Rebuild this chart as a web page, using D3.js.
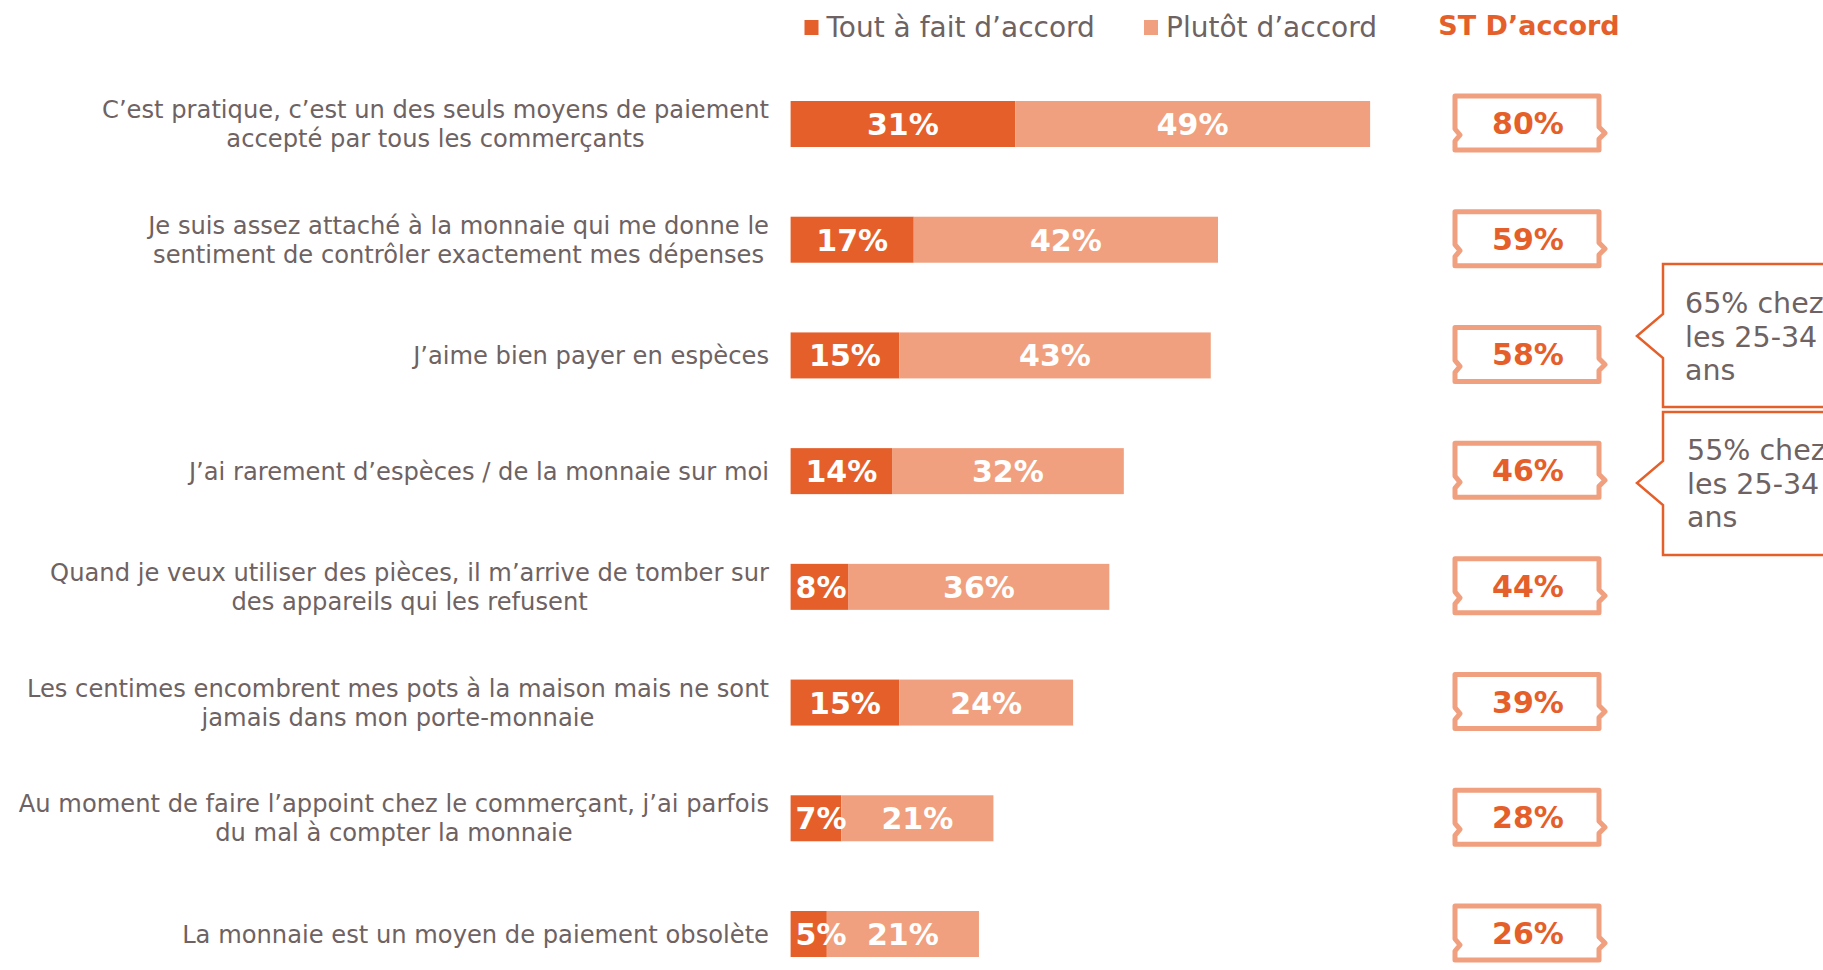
<!DOCTYPE html>
<html>
<head>
<meta charset="utf-8">
<script src="https://cdnjs.cloudflare.com/ajax/libs/d3/7.8.5/d3.min.js"></script>
<style>
  body { margin: 0; background: #fff; }
  svg { display: block; }
  text { font-family: "DejaVu Sans", Verdana, sans-serif; }
</style>
</head>
<body>
<svg id="chart" width="1823" height="970"></svg>
<script>

// data
const categories = [
  "C\u2019est pratique, c\u2019est un des seuls moyens de paiement\naccept\u00e9 par tous les commer\u00e7ants",
  "Je suis assez attach\u00e9 \u00e0 la monnaie qui me donne le\nsentiment de contr\u00f4ler exactement mes d\u00e9penses",
  "J\u2019aime bien payer en esp\u00e8ces",
  "J\u2019ai rarement d\u2019esp\u00e8ces / de la monnaie sur moi",
  "Quand je veux utiliser des pi\u00e8ces, il m\u2019arrive de tomber sur\ndes appareils qui les refusent",
  "Les centimes encombrent mes pots \u00e0 la maison mais ne sont\njamais dans mon porte-monnaie",
  "Au moment de faire l\u2019appoint chez le commer\u00e7ant, j\u2019ai parfois\ndu mal \u00e0 compter la monnaie",
  "La monnaie est un moyen de paiement obsol\u00e8te"
];
const toutAFait = [31, 17, 15, 14, 8, 15, 7, 5];
const plutot = [49, 42, 43, 32, 36, 24, 21, 21];
const stAccord = [80, 59, 58, 46, 44, 39, 28, 26];
const seriesNames = ["Tout \u00e0 fait d\u2019accord", "Plut\u00f4t d\u2019accord"];
const totalTitle = "ST D\u2019accord";
const calloutTexts = [
  ["65% chez", "les 25-34", "ans"],
  ["55% chez", "les 25-34", "ans"]
];

// layout
const darkOrange = "#E55F2A";
const lightOrange = "#F0A07E";
const greyText = "#6E6262";
const labelRight = 769;
const barH = 46;

const svg = d3.select("#chart");

const xScale = d3.scaleLinear().domain([0, 100]).range([790.6, 1515]);
const yScale = d3.scalePoint().domain(d3.range(categories.length)).range([124, 934]);

const rows = categories.map((c, i) => ({
  i: i, label: c, a: toutAFait[i], b: plutot[i], total: stAccord[i]
}));

// category labels (lines centred on each other, widest line right-aligned)
rows.forEach(function (d) {
  const lines = d.label.split("\n");
  const t = svg.append("text")
    .attr("font-size", 24.2)
    .attr("fill", greyText)
    .attr("text-anchor", "middle");
  const lineH = 29;
  const y0 = yScale(d.i) - (lines.length - 1) * lineH / 2 + 8.5;
  lines.forEach(function (l, k) {
    t.append("tspan").attr("x", 0).attr("y", y0 + k * lineH).text(l);
  });
  const maxW = d3.max(t.selectAll("tspan").nodes(), n => n.getComputedTextLength());
  t.attr("transform", "translate(" + (labelRight - maxW / 2) + ",0)");
});

// bars
svg.selectAll(".barA")
  .data(rows)
  .enter()
  .append("rect")
  .attr("class", "barA")
  .attr("x", xScale(0))
  .attr("y", d => yScale(d.i) - barH / 2)
  .attr("width", d => xScale(d.a) - xScale(0))
  .attr("height", barH)
  .style("fill", darkOrange);

svg.selectAll(".barB")
  .data(rows)
  .enter()
  .append("rect")
  .attr("class", "barB")
  .attr("x", d => xScale(d.a))
  .attr("y", d => yScale(d.i) - barH / 2)
  .attr("width", d => xScale(d.a + d.b) - xScale(d.a))
  .attr("height", barH)
  .style("fill", lightOrange);

// bar value labels
rows.forEach(function (d) {
  const ta = svg.append("text")
    .attr("font-size", 30)
    .attr("font-weight", "bold")
    .attr("fill", "#fff")
    .attr("y", yScale(d.i) + 11)
    .text(d.a + "%");
  const wa = ta.node().getComputedTextLength();
  const ca = (xScale(0) + xScale(d.a)) / 2;
  ta.attr("x", Math.max(ca - wa / 2, xScale(0) + 5));

  svg.append("text")
    .attr("font-size", 30)
    .attr("font-weight", "bold")
    .attr("fill", "#fff")
    .attr("text-anchor", "middle")
    .attr("x", (xScale(d.a) + xScale(d.a + d.b)) / 2)
    .attr("y", yScale(d.i) + 11)
    .text(d.b + "%");
});

// legend
const legend = [
  { name: seriesNames[0], color: darkOrange, x: 804.5 },
  { name: seriesNames[1], color: lightOrange, x: 1144 }
];
legend.forEach(function (l) {
  svg.append("rect").attr("x", l.x).attr("y", 20).attr("width", 14).attr("height", 15)
    .style("fill", l.color);
  svg.append("text").attr("x", l.x + 22).attr("y", 37)
    .attr("font-size", 28).attr("fill", greyText).text(l.name);
});

// total column
const boxCx = 1527, boxW = 144, boxH = 54;
svg.append("text")
  .attr("x", 1529).attr("y", 35)
  .attr("text-anchor", "middle")
  .attr("font-size", 27).attr("font-weight", "bold")
  .attr("fill", darkOrange)
  .text(totalTitle);

function ticket(cx, cy) {
  const x0 = cx - boxW / 2, x1 = cx + boxW / 2;
  const y0 = cy - boxH / 2, y1 = cy + boxH / 2;
  return "M" + x0 + "," + y0 + "L" + x1 + "," + y0 +
    "L" + x1 + "," + (cy + 4) + "L" + (x1 + 6) + "," + (cy + 10) +
    "L" + x1 + "," + (cy + 16) + "L" + x1 + "," + y1 +
    "L" + x0 + "," + y1 + "L" + x0 + "," + (cy + 18) +
    "L" + (x0 + 5) + "," + (cy + 12) + "L" + x0 + "," + (cy + 6) + "Z";
}

svg.selectAll(".stbox")
  .data(rows)
  .enter()
  .append("path")
  .attr("class", "stbox")
  .attr("d", d => ticket(boxCx, yScale(d.i) - 1))
  .style("fill", "#fff")
  .style("stroke", lightOrange)
  .style("stroke-width", 5)
  .style("stroke-linejoin", "round");

svg.selectAll(".stval")
  .data(rows)
  .enter()
  .append("text")
  .attr("class", "stval")
  .attr("x", boxCx + 1)
  .attr("y", d => yScale(d.i) + 10)
  .attr("text-anchor", "middle")
  .attr("font-size", 30).attr("font-weight", "bold")
  .attr("fill", darkOrange)
  .text(d => d.total + "%");

// callouts
const callouts = [
  { top: 264, bottom: 407, tip: 336, tx: 1685, ty: 313 },
  { top: 412, bottom: 555, tip: 483, tx: 1687, ty: 460 }
];
callouts.forEach(function (c, k) {
  const left = 1663, right = 1835;
  svg.append("path")
    .attr("d", "M" + left + "," + c.top + "L" + right + "," + c.top +
      "L" + right + "," + c.bottom + "L" + left + "," + c.bottom +
      "L" + left + "," + (c.tip + 22) + "L" + (left - 26) + "," + c.tip +
      "L" + left + "," + (c.tip - 22) + "Z")
    .style("fill", "#fff")
    .style("stroke", darkOrange)
    .style("stroke-width", 2.5);
  calloutTexts[k].forEach(function (line, j) {
    svg.append("text")
      .attr("x", c.tx).attr("y", c.ty + j * 33.5)
      .attr("font-size", 28.5).attr("fill", greyText)
      .text(line);
  });
});

</script>
</body>
</html>
